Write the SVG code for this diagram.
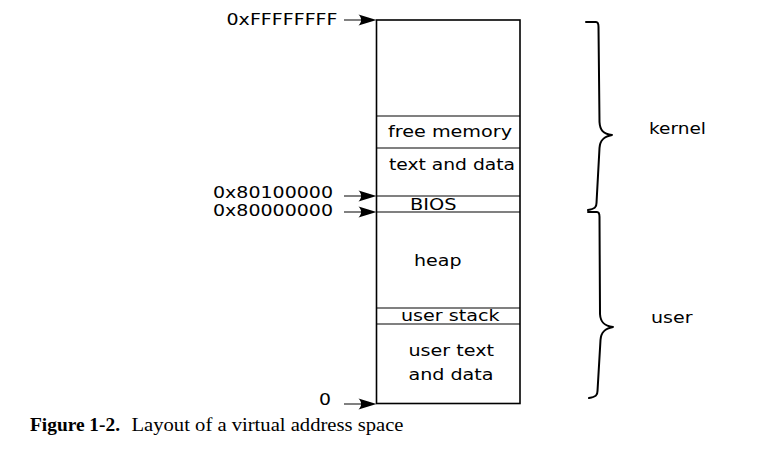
<svg xmlns="http://www.w3.org/2000/svg" width="779" height="450" viewBox="0 0 779 450">
<defs>
<style>
.lbl{font-family:"DejaVu Sans","Verdana",sans-serif;font-size:16px;fill:#000}
.hex{font-family:"DejaVu Sans","Verdana",sans-serif;font-size:15px;fill:#000}
.cap{font-family:"Liberation Serif","Times New Roman",serif;font-size:18px;fill:#000}
.div{stroke:#808080;stroke-width:2;fill:none}
.aline{stroke:#808080;stroke-width:2;fill:none}
.brace{stroke:#000;stroke-width:2;fill:none;stroke-linecap:round;stroke-linejoin:round}
</style>
<path id="ah" d="M0,0 L-18,-5.5 C-14.5,-2 -14.5,2 -18,5.5 Z" fill="#000"/>
</defs>
<rect width="779" height="450" fill="#fff"/>

<g id="memory-box">
<line class="div" x1="376.5" y1="116" x2="520" y2="116"/>
<line class="div" x1="376.5" y1="148" x2="520" y2="148"/>
<line class="div" x1="376.5" y1="196" x2="520" y2="196"/>
<line class="div" x1="376.5" y1="212" x2="520" y2="212"/>
<line class="div" x1="376.5" y1="308" x2="520" y2="308"/>
<line class="div" x1="376.5" y1="324" x2="520" y2="324"/>
<rect x="376.5" y="20" width="143.5" height="383.5" fill="none" stroke="#000" stroke-width="1.6"/>
</g>

<g id="region-labels">
<text class="lbl" x="388" y="137" textLength="124" lengthAdjust="spacingAndGlyphs">free memory</text>
<text class="lbl" x="389" y="169.5" textLength="126" lengthAdjust="spacingAndGlyphs">text and data</text>
<text class="lbl" x="410" y="209.5" textLength="46.5" lengthAdjust="spacingAndGlyphs">BIOS</text>
<text class="lbl" x="414" y="266" textLength="47.5" lengthAdjust="spacingAndGlyphs">heap</text>
<text class="lbl" x="401" y="321" textLength="98.5" lengthAdjust="spacingAndGlyphs">user stack</text>
<text class="lbl" x="408.5" y="356" textLength="85.5" lengthAdjust="spacingAndGlyphs">user text</text>
<text class="lbl" x="408.5" y="379.5" textLength="85" lengthAdjust="spacingAndGlyphs">and data</text>
</g>

<g id="address-labels">
<text class="hex" x="226.5" y="25" textLength="111" lengthAdjust="spacingAndGlyphs">0xFFFFFFFF</text>
<text class="hex" x="213" y="197.5" textLength="120" lengthAdjust="spacingAndGlyphs">0x80100000</text>
<text class="hex" x="213" y="216" textLength="120" lengthAdjust="spacingAndGlyphs">0x80000000</text>
<text class="hex" x="319" y="405" textLength="12" lengthAdjust="spacingAndGlyphs">0</text>
</g>

<g id="connectors">
<line class="aline" x1="344" y1="20" x2="364" y2="20"/>
<use href="#ah" x="376.5" y="20"/>
<line class="aline" x1="344" y1="196" x2="364" y2="196"/>
<use href="#ah" x="376.5" y="196"/>
<line class="aline" x1="344" y1="212" x2="364" y2="212"/>
<use href="#ah" x="376.5" y="212"/>
<line class="aline" x1="344" y1="404" x2="364" y2="404"/>
<use href="#ah" x="376.5" y="404"/>
</g>

<g id="kernel-brace">
<path class="brace" d="M586,22 L596,22 C598,22 598.5,24 598.5,27 L599.5,122 C600,130 603,134 612,135 C604,136.5 600,140 599.5,148 L596.5,203 C596.5,207 595,209 588,210"/>
<text class="lbl" x="649" y="133.5" textLength="57" lengthAdjust="spacingAndGlyphs">kernel</text>
</g>

<g id="user-brace">
<path class="brace" d="M588,212 L597,212 C599,212 599.5,214 599.5,217 L600,314 C600.5,322 604,326 613,327 C605,328.5 601,332 600.5,340 L597.5,391 C597.5,395 596,397 589,398"/>
<text class="lbl" x="651" y="323" textLength="41.5" lengthAdjust="spacingAndGlyphs">user</text>
</g>

<g id="caption">
<text class="cap" x="30" y="431" font-weight="bold" textLength="90" lengthAdjust="spacingAndGlyphs">Figure 1-2.</text>
<text class="cap" x="131.5" y="431" textLength="272" lengthAdjust="spacingAndGlyphs">Layout of a virtual address space</text>
</g>
</svg>
